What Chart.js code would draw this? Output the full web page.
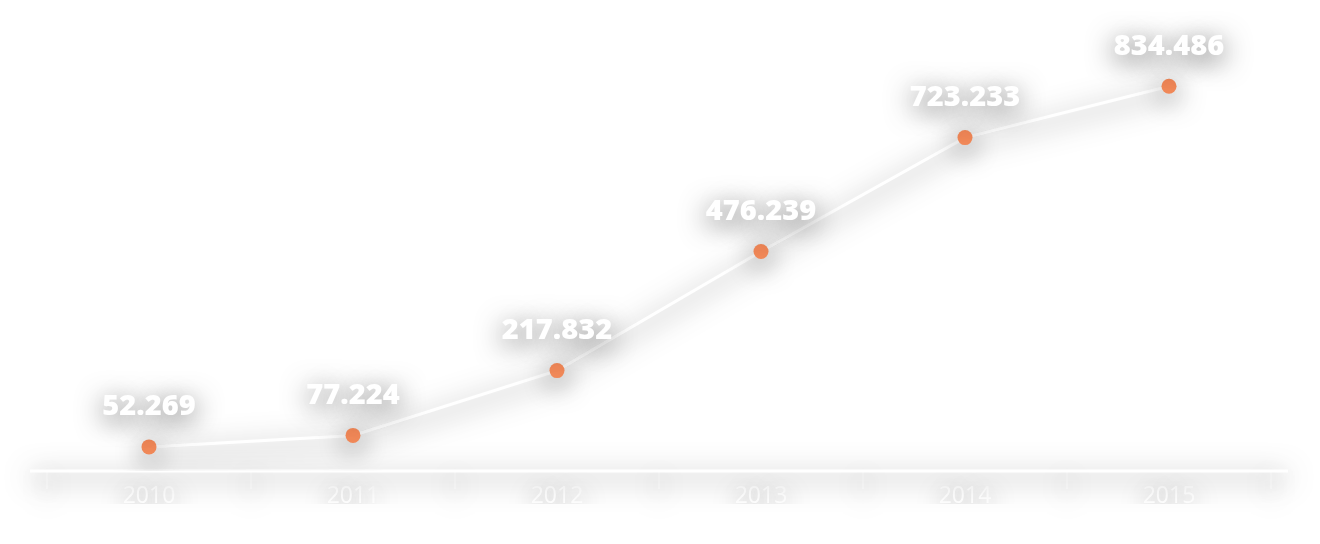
<!DOCTYPE html>
<html>
<head>
<meta charset="utf-8">
<script src="https://cdn.jsdelivr.net/npm/chart.js@4.4.1/dist/chart.umd.min.js"></script>
<style>
  html, body { margin: 0; padding: 0; background: #fff; }
  #wrap { width: 1320px; height: 544px; }
</style>
</head>
<body>
<div id="wrap"><canvas id="chart"></canvas></div>
<script>
const years = ['2010', '2011', '2012', '2013', '2014', '2015'];
const values = [52.269, 77.224, 217.832, 476.239, 723.233, 834.486];
const valueLabels = ['52.269', '77.224', '217.832', '476.239', '723.233', '834.486'];

// grey drop shadow under everything
const shadowPlugin = {
  id: 'shadow',
  beforeDraw(chart) {
    const ctx = chart.ctx;
    ctx.save();
    ctx.shadowColor = 'rgba(0,0,0,0.7)';
    ctx.shadowBlur = 28;
    ctx.shadowOffsetX = 0;
    ctx.shadowOffsetY = 6;
  },
  afterDraw(chart) {
    chart.ctx.restore();
  }
};

// base line of the x axis, a bit longer than the plot area
const axisLine = {
  id: 'axisLine',
  beforeDatasetsDraw(chart) {
    const { ctx, chartArea } = chart;
    ctx.save();
    ctx.strokeStyle = '#fff';
    ctx.lineWidth = 3;
    ctx.beginPath();
    ctx.moveTo(chartArea.left - 17, chartArea.bottom);
    ctx.lineTo(chartArea.right + 17, chartArea.bottom);
    ctx.stroke();
    ctx.restore();
  }
};

const valueText = {
  id: 'valueText',
  afterDatasetsDraw(chart) {
    const ctx = chart.ctx;
    const meta = chart.getDatasetMeta(0);
    ctx.save();
    ctx.fillStyle = '#fff';
    ctx.font = '800 29px "Open Sans"';
    ctx.textAlign = 'center';
    ctx.textBaseline = 'middle';
    meta.data.forEach((pt, i) => {
      ctx.fillText(valueLabels[i], pt.x, pt.y - 40);
    });
    ctx.restore();
  }
};

new Chart(document.getElementById('chart'), {
  type: 'line',
  data: {
    labels: years,
    datasets: [{
      data: values,
      borderColor: '#fff',
      borderWidth: 3,
      pointRadius: 7.5,
      pointBackgroundColor: '#F08858',
      pointBorderWidth: 0,
      tension: 0
    }]
  },
  options: {
    responsive: true,
    maintainAspectRatio: false,
    animation: false,
    layout: { padding: { left: 47, right: 49, top: 10, bottom: 40 } },
    plugins: { legend: { display: false }, tooltip: { enabled: false } },
    scales: {
      x: {
        offset: true,
        border: { display: false },
        grid: {
          offset: true,
          drawOnChartArea: false,
          color: '#fff',
          lineWidth: 2,
          tickLength: 18
        },
        ticks: {
          color: '#fff',
          padding: -4,
          font: { family: 'Open Sans', size: 23, lineHeight: 1 }
        }
      },
      y: {
        display: false,
        min: 0,
        max: 1000
      }
    }
  },
  plugins: [shadowPlugin, axisLine, valueText]
});
</script>
</body>
</html>
